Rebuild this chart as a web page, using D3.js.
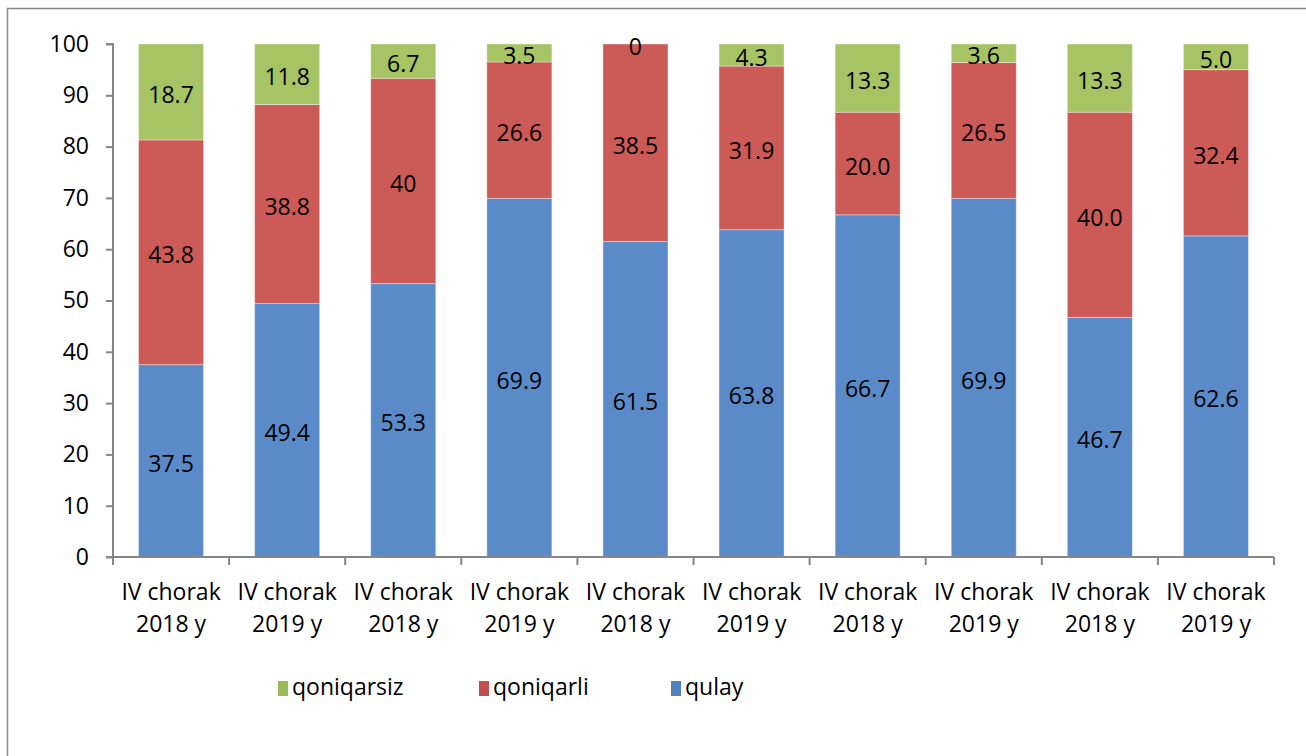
<!DOCTYPE html>
<html><head><meta charset="utf-8">
<script src="https://cdn.jsdelivr.net/npm/d3@7"></script>
<style>
body{margin:0;background:#fff;}
svg{display:block;font-family:"Open Sans",sans-serif;}
</style></head>
<body><svg id="c" width="1306" height="756"></svg>
<script>
const categories = ["IV chorak|2018 y","IV chorak|2019 y","IV chorak|2018 y","IV chorak|2019 y","IV chorak|2018 y","IV chorak|2019 y","IV chorak|2018 y","IV chorak|2019 y","IV chorak|2018 y","IV chorak|2019 y"];
const qulay = [37.5,49.4,53.3,69.9,61.5,63.8,66.7,69.9,46.7,62.6];
const qoniqarli = [43.8,38.8,40,26.6,38.5,31.9,20.0,26.5,40.0,32.4];
const qoniqarsiz = [18.7,11.8,6.7,3.5,0,4.3,13.3,3.6,13.3,5.0];
const qulayLabels = ["37.5","49.4","53.3","69.9","61.5","63.8","66.7","69.9","46.7","62.6"];
const qoniqarliLabels = ["43.8","38.8","40","26.6","38.5","31.9","20.0","26.5","40.0","32.4"];
const qoniqarsizLabels = ["18.7","11.8","6.7","3.5","0","4.3","13.3","3.6","13.3","5.0"];
const yTicks = [0,10,20,30,40,50,60,70,80,90,100];
const seriesNames = ["qulay","qoniqarli","qoniqarsiz"];
const legendNames = ["qoniqarsiz","qoniqarli","qulay"];

const fills = {qulay:"#5A8BC8", qoniqarli:"#CC5A56", qoniqarsiz:"#A6C464"};
const legendFills = {qulay:"#4F81BD", qoniqarli:"#C0504D", qoniqarsiz:"#9BBB59"};
const FS = 23;

const svg = d3.select("#c");
svg.append("path").attr("d","M7.5,756 L7.5,8.5 L1306,8.5").attr("fill","none").attr("stroke","#898989").attr("stroke-width",1.5);

const x0=113, x1=1274, yTop=44, yBot=557;
const idx = categories.map((d,i)=>i);
const x = d3.scaleBand().domain(idx).range([x0,x1]).paddingInner(0.44).paddingOuter(0.22);
const xb = d3.scaleBand().domain(idx).range([x0,x1]);
const y = d3.scaleLinear().domain([0,100]).range([yBot,yTop]);

const rows = idx.map(i=>({i, qulay:qulay[i], qoniqarli:qoniqarli[i], qoniqarsiz:qoniqarsiz[i],
  labels:{qulay:qulayLabels[i], qoniqarli:qoniqarliLabels[i], qoniqarsiz:qoniqarsizLabels[i]}}));
const stack = d3.stack().keys(seriesNames)(rows);

const g = svg.append("g");
stack.forEach(s=>{
  g.selectAll(null).data(s).enter().append("rect")
    .attr("x",d=>x(d.data.i)).attr("width",x.bandwidth())
    .attr("y",d=>y(d[1])).attr("height",d=>y(d[0])-y(d[1]))
    .attr("fill",fills[s.key]).attr("stroke","#ffffff").attr("stroke-opacity",0.35).attr("stroke-width",1);
});
stack.forEach(s=>{
  g.selectAll(null).data(s).enter().append("text")
    .attr("x",d=>x(d.data.i)+x.bandwidth()/2)
    .attr("y",d=>(y(d[0])+y(d[1]))/2+2)
    .attr("text-anchor","middle").attr("dominant-baseline","central")
    .attr("font-size",FS).attr("fill","#000")
    .text(d=>d.data.labels[s.key]);
});

const yAxis = d3.axisLeft(y).tickValues(yTicks).tickSize(7).tickPadding(17);
const ya = svg.append("g").attr("transform",`translate(${x0},0)`).call(yAxis);
ya.select(".domain").attr("stroke","#868686").attr("stroke-width",2).attr("d",`M-7,${yTop}H0V${yBot}H-7`);
ya.selectAll(".tick line").attr("stroke","#868686").attr("stroke-width",2);
ya.selectAll(".tick text").attr("font-size",FS).attr("fill","#000").attr("font-family","'Open Sans',sans-serif");

const xa = svg.append("g").attr("transform",`translate(0,${yBot})`);
xa.append("line").attr("x1",x0).attr("x2",x1).attr("y1",0).attr("y2",0).attr("stroke","#868686").attr("stroke-width",2);
const bounds = idx.map(i=>xb(i)).concat([x1]);
xa.selectAll(null).data(bounds).enter().append("line")
  .attr("x1",d=>d).attr("x2",d=>d).attr("y1",0).attr("y2",8).attr("stroke","#868686").attr("stroke-width",2);
const lbl = xa.selectAll(null).data(idx).enter().append("text")
  .attr("text-anchor","middle").attr("font-size",FS).attr("fill","#000")
  .attr("transform",i=>`translate(${xb(i)+xb.bandwidth()/2},0)`);
lbl.append("tspan").attr("x",0).attr("y",43).text(i=>categories[i].split("|")[0]);
lbl.append("tspan").attr("x",0).attr("y",75).text(i=>categories[i].split("|")[1]);

const legX = [278,479,671];
const leg = svg.append("g");
legendNames.forEach((n,k)=>{
  leg.append("rect").attr("x",legX[k]).attr("y",681).attr("width",10).attr("height",15).attr("fill",legendFills[n]);
  leg.append("text").attr("x",legX[k]+14).attr("y",695).attr("font-size",FS).attr("fill","#000").text(n);
});
</script></body></html>
